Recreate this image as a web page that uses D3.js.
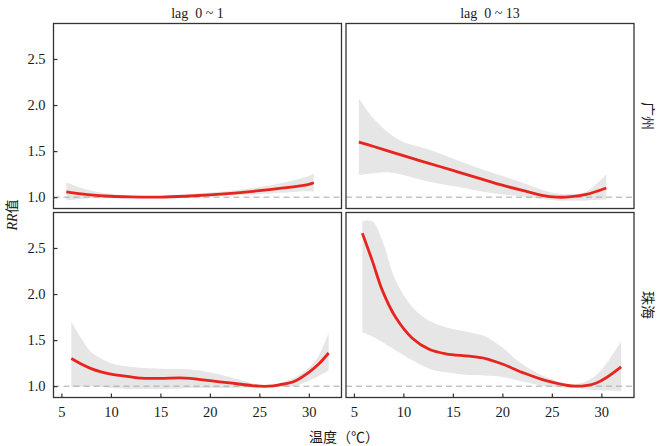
<!DOCTYPE html>
<html><head><meta charset="utf-8">
<script src="https://cdn.jsdelivr.net/npm/d3@7"></script>
<style>body{margin:0;background:#fff}svg{display:block}text{white-space:pre}</style>
</head><body>
<svg id="c" width="659" height="446"></svg>
<script>
const lags = ["lag  0 ~ 1", "lag  0 ~ 13"];
const cities = ["广州", "珠海"];
const xTicks = [5, 10, 15, 20, 25, 30];
const yTicks = [1.0, 1.5, 2.0, 2.5];

// 广州 lag 0~1
const gz1T   = [5.5, 7, 8.5, 10, 12, 13.5, 15, 17.5, 20, 22.5, 25, 27.5, 30, 30.5];
const gz1RR  = [1.058, 1.035, 1.02, 1.01, 1.003, 1.0, 1.0, 1.01, 1.025, 1.045, 1.07, 1.10, 1.14, 1.156];
const gz1Hi  = [1.163, 1.10, 1.06, 1.035, 1.015, 1.005, 1.01, 1.03, 1.05, 1.075, 1.11, 1.16, 1.23, 1.257];
const gz1Lo  = [0.964, 0.98, 0.99, 0.99, 0.99, 0.995, 0.995, 0.998, 1.005, 1.02, 1.035, 1.05, 1.065, 1.058];

// 广州 lag 0~13
const gz13T  = [5.5, 7, 8.5, 10, 12.5, 15, 17.5, 20, 22.5, 24, 25.5, 27, 28.5, 30.5];
const gz13RR = [1.597, 1.55, 1.50, 1.45, 1.37, 1.29, 1.21, 1.13, 1.06, 1.02, 1.0, 1.005, 1.03, 1.10];
const gz13Hi = [2.07, 1.85, 1.70, 1.60, 1.52, 1.42, 1.32, 1.23, 1.14, 1.08, 1.04, 1.035, 1.06, 1.25];
const gz13Lo = [1.24, 1.26, 1.27, 1.24, 1.17, 1.12, 1.07, 1.03, 1.0, 0.98, 0.965, 0.96, 0.965, 0.975];

// 珠海 lag 0~1
const zh1T   = [6, 7, 8, 9, 10, 12, 13, 15, 17, 18, 20, 22, 24, 25, 26, 27, 28.5, 30, 31, 32];
const zh1RR  = [1.30, 1.24, 1.19, 1.155, 1.13, 1.10, 1.087, 1.085, 1.09, 1.085, 1.06, 1.035, 1.01, 1.0, 1.0, 1.015, 1.05, 1.15, 1.24, 1.36];
const zh1Hi  = [1.70, 1.52, 1.37, 1.30, 1.25, 1.21, 1.20, 1.19, 1.185, 1.18, 1.15, 1.10, 1.04, 1.015, 1.015, 1.03, 1.09, 1.20, 1.33, 1.58];
const zh1Lo  = [0.99, 0.995, 1.0, 0.99, 0.98, 0.97, 0.97, 0.97, 0.975, 0.98, 0.98, 0.98, 0.985, 0.99, 0.99, 0.99, 1.0, 1.06, 1.11, 1.17];

// 珠海 lag 0~13
const zh13T  = [5.85, 6.86, 7.87, 9.2, 10.9, 12.6, 14.3, 16.65, 18.3, 20, 22, 24.4, 27.3, 29.5, 32];
const zh13RR = [2.66, 2.36, 2.04, 1.75, 1.52, 1.40, 1.35, 1.325, 1.30, 1.24, 1.15, 1.06, 1.0, 1.035, 1.21];
const zh13Hi = [2.79, 2.79, 2.58, 2.15, 1.86, 1.71, 1.64, 1.585, 1.54, 1.42, 1.24, 1.10, 1.02, 1.12, 1.49];
const zh13Lo = [1.585, 1.54, 1.48, 1.39, 1.28, 1.19, 1.15, 1.12, 1.115, 1.10, 1.05, 1.0, 0.98, 0.955, 0.945];

const panels = [
  {row: 0, col: 0, T: gz1T, RR: gz1RR, hi: gz1Hi, lo: gz1Lo},
  {row: 0, col: 1, T: gz13T, RR: gz13RR, hi: gz13Hi, lo: gz13Lo},
  {row: 1, col: 0, T: zh1T, RR: zh1RR, hi: zh1Hi, lo: zh1Lo},
  {row: 1, col: 1, T: zh13T, RR: zh13RR, hi: zh13Hi, lo: zh13Lo}
];

const svg = d3.select("#c");
const serif = "'Liberation Serif','Times New Roman','Noto Sans CJK SC',serif";
const cjk = "'Noto Sans CJK SC','Liberation Serif',serif";
const colX = [53.5, 346], panelW = 288;
const rowY = [23.5, 212.5], panelH = 185;
const curve = d3.curveCatmullRom.alpha(0.5);

panels.forEach(p => {
  const x0 = colX[p.col], y0 = rowY[p.row];
  const x = d3.scaleLinear().domain([4.2, 33.3]).range([x0, x0 + panelW]);
  const y = d3.scaleLinear().domain([0.877, 2.885]).range([y0 + panelH, y0]);
  const g = svg.append("g");
  const clipId = "clip" + p.row + p.col;
  g.append("clipPath").attr("id", clipId).append("rect")
    .attr("x", x0).attr("y", y0).attr("width", panelW).attr("height", panelH);
  const inner = g.append("g").attr("clip-path", `url(#${clipId})`);
  const idx = d3.range(p.T.length);
  inner.append("path")
    .attr("d", d3.area().curve(curve)
      .x(i => x(p.T[i])).y0(i => y(p.lo[i])).y1(i => y(p.hi[i]))(idx))
    .attr("fill", "#e6e6e6");
  inner.append("line")
    .attr("x1", x0).attr("x2", x0 + panelW)
    .attr("y1", y(1)).attr("y2", y(1))
    .attr("stroke", "#a8a8a8").attr("stroke-width", 1).attr("stroke-dasharray", "6,4");
  inner.append("path")
    .attr("d", d3.line().curve(curve)
      .x(i => x(p.T[i])).y(i => y(p.RR[i]))(idx))
    .attr("fill", "none").attr("stroke", "#e8241f").attr("stroke-width", 2.8);
  g.append("rect").attr("x", x0).attr("y", y0).attr("width", panelW).attr("height", panelH)
    .attr("fill", "none").attr("stroke", "#333").attr("stroke-width", 1.3);

  if (p.col === 0) {
    const ay = d3.axisLeft(y).tickValues(yTicks).tickFormat(d3.format(".1f")).tickSizeInner(-4).tickSizeOuter(0).tickPadding(8);
    const ga = g.append("g").attr("transform", `translate(${x0},0)`).call(ay);
    ga.select(".domain").remove();
    ga.selectAll("line").attr("stroke", "#333").attr("stroke-width", 1.2);
    ga.selectAll("text").attr("font-family", serif).attr("font-size", 14.5).attr("fill", "#1a1a1a");
  }
  if (p.row === 1) {
    const ax = d3.axisBottom(x).tickValues(xTicks).tickSizeInner(-4).tickSizeOuter(0).tickPadding(9);
    const ga = g.append("g").attr("transform", `translate(0,${y0 + panelH})`).call(ax);
    ga.select(".domain").remove();
    ga.selectAll("line").attr("stroke", "#333").attr("stroke-width", 1.2);
    ga.selectAll("text").attr("font-family", serif).attr("font-size", 14.5).attr("fill", "#1a1a1a");
  }
});

// column strip labels
lags.forEach((t, i) => {
  svg.append("text").attr("x", colX[i] + panelW / 2).attr("y", 18)
    .attr("text-anchor", "middle").attr("font-family", serif).attr("font-size", 14)
    .attr("fill", "#1a1a1a").text(t);
});
// row strip labels
cities.forEach((t, i) => {
  const cy = rowY[i] + panelH / 2;
  svg.append("text").attr("transform", `translate(643,${cy}) rotate(90)`)
    .attr("text-anchor", "middle").attr("font-family", cjk).attr("font-size", 14)
    .attr("fill", "#1a1a1a").text(t);
});
// axis titles
svg.append("text").attr("x", 344).attr("y", 442).attr("text-anchor", "middle")
  .attr("font-family", cjk).attr("font-size", 14).attr("fill", "#1a1a1a").text("温度（℃）");
const yt = svg.append("text").attr("transform", "translate(17,215) rotate(-90)")
  .attr("text-anchor", "middle").attr("font-family", serif).attr("font-size", 14).attr("fill", "#1a1a1a");
yt.append("tspan").attr("font-style", "italic").text("RR");
yt.append("tspan").attr("font-family", cjk).text("值");
</script>
</body></html>
